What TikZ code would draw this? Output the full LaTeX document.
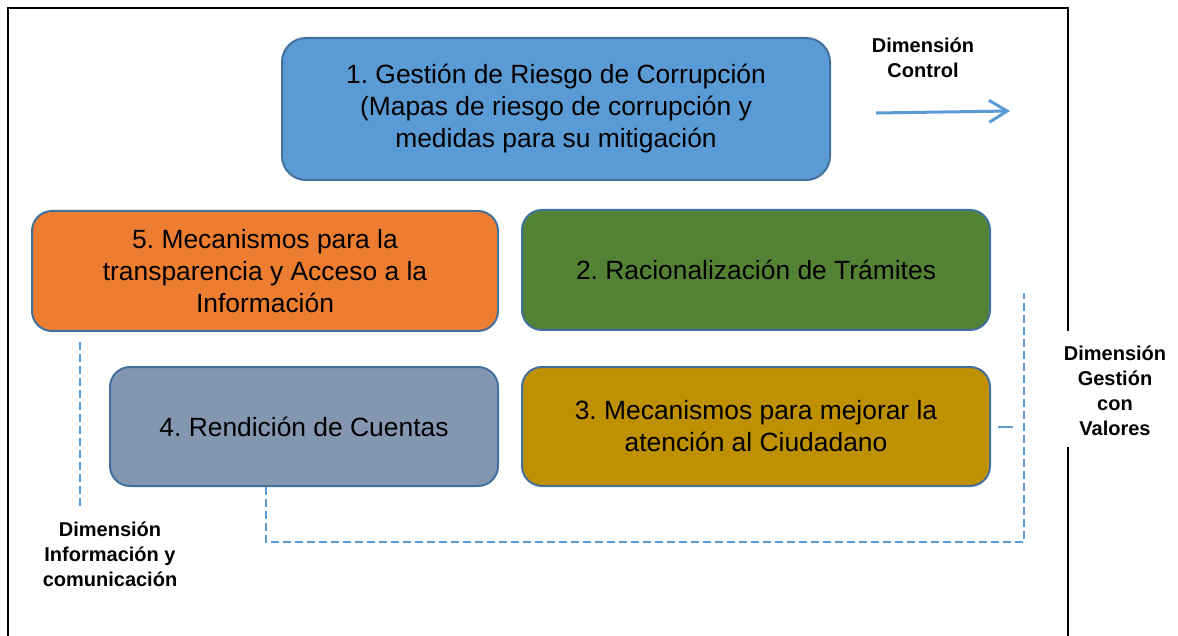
\documentclass[tikz,border=0pt]{standalone}
\usepackage{fontspec}
\setmainfont{Liberation Sans}
\usepackage{xcolor}
\usetikzlibrary{positioning,arrows.meta}
\definecolor{azul}{HTML}{5B9BD5}
\definecolor{naranja}{HTML}{ED7D31}
\definecolor{verde}{HTML}{548235}
\definecolor{gris}{HTML}{8497B0}
\definecolor{oro}{HTML}{BF9000}
\definecolor{borde}{HTML}{41719C}
\tikzset{caja/.style={rectangle,rounded corners=10pt,draw=borde,line width=1pt,align=center,text=black,font=\fontsize{13.2}{16}\selectfont}}
\tikzset{dim/.style={align=center,font=\fontsize{10}{12.5}\selectfont\bfseries}}
\tikzset{guia/.style={draw=azul,line width=1pt,dash pattern=on 4pt off 2pt}}

\begin{document}
\frenchspacing
\begin{tikzpicture}[x=0.5pt,y=-0.5pt,>=stealth]
        \useasboundingbox (0,0) rectangle (1178,636);
        % marco
        \draw[line width=1pt] (8,636) -- (8,8) -- (1068,8) -- (1068,331);
        \draw[line width=1pt] (1068,447) -- (1068,636);

        \node[caja,fill=azul,rounded corners=12pt,minimum width=274pt,minimum height=71pt] (r1) at (556,109) {1. Gestión de Riesgo de Corrupción\\(Mapas de riesgo de corrupción y\\medidas para su mitigación};
        \node[caja,fill=naranja,minimum width=233pt,minimum height=60pt] (r5) at (265,271) {5. Mecanismos para la\\transparencia y Acceso a la\\Información};
        \node[caja,fill=verde,minimum width=234pt,minimum height=60pt] (r2) at (756,270) {2. Racionalización de Trámites};
        \node[caja,fill=gris,minimum width=194pt,minimum height=59.5pt] (r4) at (304,426.5) {4. Rendición de Cuentas};
        \node[caja,fill=oro,minimum width=234pt,minimum height=59.5pt] (r3) at (756,426.5) {3. Mecanismos para mejorar la\\atención al Ciudadano};

        \node[dim] (dcontrol) at (923,58) {Dimensión\\Control};
        \node[dim] (dvalores) at (1115,391) {Dimensión\\Gestión\\con\\Valores};
        \node[dim] (dinfo) at (110,554) {Dimensión\\Información y\\comunicación};

        \coordinate (c1) at (876,113);
        \coordinate (c2) at (1010,111);
        \draw[-{Straight Barb[length=9pt,width=11pt]},draw=azul,line width=1.5pt] (c1) -- (c2);

        \coordinate (i1) at (80,342);
        \coordinate (i2) at (80,507);
        \draw[guia] (i1) -- (i2);

        \coordinate (g1) at (1024,293);
        \draw[guia] ([xshift=-19pt]r4.south) -- ++(0,55) -| (g1);
        \draw[azul,line width=1pt] ([xshift=3.5pt]r3.east) -- ++(15,0);
\end{tikzpicture}
\end{document}
